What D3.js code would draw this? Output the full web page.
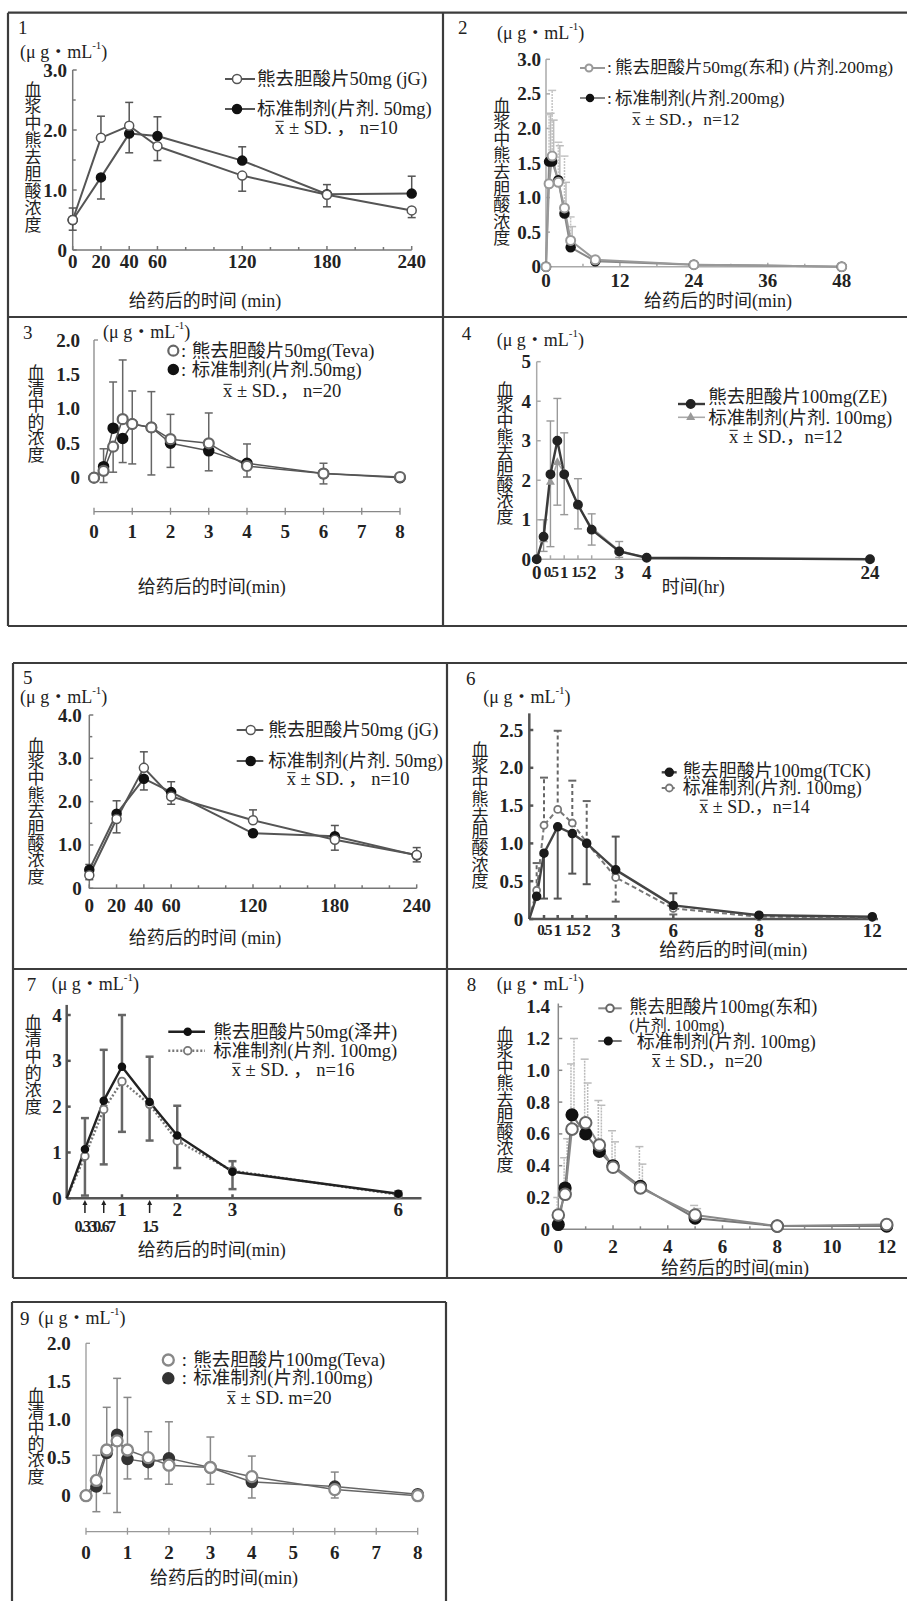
<!DOCTYPE html>
<html><head><meta charset="utf-8">
<script src="https://cdn.jsdelivr.net/npm/d3@7"></script>
<style>
body{margin:0;background:#fff}
svg{display:block}
text{font-family:"Liberation Serif","Noto Sans CJK SC",serif}
</style>
</head><body>
<svg id="c" width="907" height="1601"></svg>
<script>
// ---------------- DATA ----------------
// Panel 1
const p1_time=[0,20,40,60,120,180,240];
const p1_test=[0.50,1.87,2.07,1.73,1.24,0.92,0.66];
const p1_ref=[0.50,1.21,1.94,1.90,1.49,0.93,0.94];
const p1_testSD=[0.20,0.36,0.39,0.24,0.26,0.20,0.12];
const p1_refSD=[0.17,0.36,0.32,0.32,0.23,0.16,0.29];
const p1_xTicks=[0,20,40,60,120,180,240];
const p1_xMinor=[80,100,140,160,200,220];
const p1_yTicks=[0,1,2,3];
const p1_yLabels=["0","1.0","2.0","3.0"];
// Panel 2
const p2_time=[0,0.5,1,2,3,4,8,24,48];
const p2_test=[0,1.20,1.60,1.22,0.85,0.38,0.10,0.03,0];
const p2_ref=[0,1.52,1.52,1.25,0.77,0.28,0.08,0.03,0];
const p2_testSD=[0,1.00,0.95,0.58,0.75,0.34,0.05,0,0];
const p2_refSD=[0,0.70,0.60,0.50,0.45,0.30,0.04,0,0];
const p2_xTicks=[0,12,24,36,48];
const p2_yTicks=[0,0.5,1,1.5,2,2.5,3];
const p2_yLabels=["0","0.5","1.0","1.5","2.0","2.5","3.0"];
// Panel 3
const p3_time=[0,0.25,0.5,0.75,1,1.5,2,3,4,6,8];
const p3_test=[0,0.10,0.45,0.85,0.78,0.73,0.56,0.50,0.17,0.06,0.01];
const p3_ref=[0,0.16,0.72,0.57,0.78,0.73,0.50,0.39,0.21,0.06,0.00];
const p3_testSD=[0,0.17,0.37,0.86,0.48,0.52,0.36,0.44,0.16,0.15,0];
const p3_refSD=[0,0.26,0.67,0.35,0.58,0.69,0.35,0.29,0.28,0.15,0];
const p3_xTicks=[0,1,2,3,4,5,6,7,8];
const p3_yTicks=[0,0.5,1,1.5,2];
const p3_yLabels=["0","0.5","1.0","1.5","2.0"];
// Panel 4
const p4_time=[0,0.25,0.5,0.75,1,1.5,2,3,4,24];
const p4_test=[0,0.57,2.15,3.00,2.15,1.38,0.75,0.20,0.04,0];
const p4_ref=[0,0.50,1.95,2.45,2.20,1.35,0.80,0.22,0.04,0];
const p4_testSD=[0,0.43,1.35,1.07,1.02,0.66,0.39,0.15,0,0];
const p4_refSD=[0,0.30,1.63,1.08,1.00,0.58,0.35,0.23,0,0];
const p4_xTicks=[0,0.5,1,1.5,2,3,4,24];
const p4_xLabels=["0","0.5","1","1.5","2","3","4","24"];
const p4_yTicks=[0,1,2,3,4,5];
const p4_yLabels=["0","1","2","3","4","5"];
// Panel 5
const p5_time=[0,20,40,60,120,180,240];
const p5_test=[0.30,1.60,2.78,2.12,1.57,1.12,0.77];
const p5_ref=[0.43,1.72,2.53,2.22,1.27,1.20,0.76];
const p5_testSD=[0.10,0.32,0.37,0.18,0.24,0.24,0.17];
const p5_refSD=[0.12,0.30,0.26,0.24,0.07,0.25,0.15];
const p5_xTicks=[0,20,40,60,120,180,240];
const p5_xMinor=[80,100,140,160,200,220];
const p5_yTicks=[0,1,2,3,4];
const p5_yLabels=["0","1.0","2.0","3.0","4.0"];
// Panel 6
const p6_time=[0,0.25,0.5,1,1.5,2,3,6,8,12];
const p6_test=[0,0.30,0.87,1.22,1.13,1.00,0.65,0.18,0.05,0.03];
const p6_ref=[0,0.38,1.24,1.45,1.27,1.01,0.55,0.14,0.03,0.02];
const p6_testSD=[0,0,0.60,0.95,0.53,0.54,0.44,0.16,0.03,0];
const p6_refSD=[0,0.36,0.63,1.04,0.56,0.55,0.32,0.08,0,0];
const p6_xTicks=[0.5,1,1.5,2,3,6,8,12];
const p6_xLabels=["0.5","1","1.5","2","3","6","8","12"];
const p6_yTicks=[0,0.5,1,1.5,2,2.5];
const p6_yLabels=["0","0.5","1.0","1.5","2.0","2.5"];
// Panel 7
const p7_time=[0,0.33,0.67,1,1.5,2,3,6];
const p7_test=[0,1.07,2.13,2.87,2.10,1.37,0.58,0.10];
const p7_ref=[0,0.92,1.94,2.55,2.05,1.25,0.60,0.08];
const p7_testSD=[0,0.68,1.11,1.13,0.99,0.65,0.38,0.05];
const p7_refSD=[0,0.86,1.20,1.10,0.79,0.59,0.21,0.04];
const p7_xTicks=[1,2,3,6];
const p7_xArrows=[0.33,0.67,1,1.5];
const p7_xLower=[0.33,0.67,1.5];
const p7_yTicks=[0,1,2,3,4];
const p7_yLabels=["0","1","2","3","4"];
// Panel 8
const p8_time=[0,0.25,0.5,1,1.5,2,3,5,8,12];
const p8_test=[0.09,0.22,0.63,0.67,0.53,0.39,0.26,0.09,0.02,0.03];
const p8_ref=[0.03,0.26,0.72,0.60,0.49,0.40,0.27,0.07,0.02,0.02];
const p8_testSD=[0.11,0.23,0.41,0.40,0.28,0.23,0.26,0.06,0,0];
const p8_refSD=[0,0.31,0.48,0.32,0.29,0.15,0.14,0.06,0,0];
const p8_xTicks=[0,2,4,6,8,10,12];
const p8_xMinor=[1,3,5,7,9,11];
const p8_yTicks=[0,0.2,0.4,0.6,0.8,1.0,1.2,1.4];
const p8_yLabels=["0","0.2","0.4","0.6","0.8","1.0","1.2","1.4"];
// Panel 9
const p9_time=[0,0.25,0.5,0.75,1,1.5,2,3,4,6,8];
const p9_test=[0,0.20,0.60,0.72,0.60,0.50,0.40,0.37,0.25,0.08,0];
const p9_ref=[0,0.12,0.56,0.80,0.48,0.44,0.49,0.37,0.18,0.12,0.02];
const p9_testSD=[0,0.33,0.56,0.94,0.69,0.34,0.25,0.40,0.27,0.11,0];
const p9_refSD=[0,0.33,0.53,0.74,0.26,0.22,0.48,0.22,0.21,0.19,0];
const p9_xTicks=[0,1,2,3,4,5,6,7,8];
const p9_yTicks=[0,0.5,1,1.5,2];
const p9_yLabels=["0","0.5","1.0","1.5","2.0"];

// ---------------- DRAWING ----------------
const svg=d3.select("#c");
svg.append("rect").attr("width",907).attr("height",1601).attr("fill","#fff");
const TICK=19;

function txt(g,x,y,s,o={}){
  const t=g.append("text").attr("x",x).attr("y",y).attr("dominant-baseline","central")
    .attr("font-size",o.size||17).attr("text-anchor",o.anchor||"start")
    .attr("font-weight",o.weight||"normal").style("fill",o.fill||"#222").text(s);
  if(o.ls!=null) t.attr("letter-spacing",o.ls);
  return t;
}
function unitLabel(g,x,y){
  const t=g.append("text").attr("x",x).attr("y",y).attr("dominant-baseline","central")
    .attr("font-size",18).style("fill","#222");
  t.append("tspan").text("(μ g・mL");
  t.append("tspan").attr("font-size",11).attr("dy",-7).text("-1");
  t.append("tspan").attr("dy",7).text(")");
}
function statLabel(g,x,y,rest,size){
  const t=g.append("text").attr("x",x).attr("y",y).attr("dominant-baseline","central")
    .attr("font-size",size).style("fill","#222");
  t.append("tspan").text("x");
  t.append("tspan").text(rest);
  const e=t.node().getExtentOfChar(0);
  g.append("line").attr("x1",e.x+0.5).attr("x2",e.x+e.width-0.5)
    .attr("y1",y-0.36*size).attr("y2",y-0.36*size).attr("stroke","#222").attr("stroke-width",1);
}
function marker(g,s,cx,cy,r){
  r=r||s.r;
  if(s.marker==="tri"){
    g.append("path").attr("d",d3.symbol(d3.symbolTriangle,r*r*2.2)())
      .attr("transform",`translate(${cx},${cy})`).attr("fill",s.mfill);
  } else {
    g.append("circle").attr("cx",cx).attr("cy",cy).attr("r",r)
      .attr("fill",s.mfill).attr("stroke",s.mstroke).attr("stroke-width",s.msw||1.5);
  }
}

function drawPanel(c){
  const g=svg.append("g");
  const x=d3.scaleLinear().domain(c.xDomain).range(c.xRange);
  const y=d3.scaleLinear().domain([0,c.yMax]).range(c.yRange);
  const x0=x(0), y0=y(0);
  const A={stroke:c.axisColor,"stroke-width":c.axisWidth};
  const ln=(x1,y1,x2,y2,st)=>{const l=g.append("line").attr("x1",x1).attr("y1",y1).attr("x2",x2).attr("y2",y2);
    for(const k in st) l.attr(k,st[k]); return l;};

  txt(g,c.numPos[0],c.numPos[1],c.num,{size:19});
  unitLabel(g,c.unitPos[0],c.unitPos[1]);

  // y axis
  ln(x0,y(c.yAxisTop),x0,c.sepAxisY?y(c.yAxisBottom):y0,A);
  c.yTicks.forEach(v=>ln(x0,y(v),x0+4,y(v),A));
  (c.yMinor||[]).forEach(v=>ln(x0,y(v),x0+3,y(v),A));
  c.yTicks.forEach((v,i)=>txt(g,c.yLabelX,y(v),c.yLabels[i],{anchor:"end",size:TICK,weight:"bold"}));

  // x axis
  if(c.sepAxisY){
    const ay=c.sepAxisY;
    ln(x0,ay,x(c.xAxisEnd),ay,A);
    c.xTicks.forEach(v=>ln(x(v),ay-4,x(v),ay+3,A));
  } else {
    ln(x0,y0,x(c.xAxisEnd),y0,A);
    c.xTicks.forEach(v=>ln(x(v),y0,x(v),y0-4,A));
    (c.xMinor||[]).forEach(v=>ln(x(v),y0,x(v),y0-3,A));
  }
  c.xTicks.forEach((v,i)=>txt(g,x(v),c.xLabelY,c.xLabels?c.xLabels[i]:String(v),
    {anchor:"middle",size:(c.xLabelSize&&c.xLabelSize[i])||TICK,weight:"bold",ls:(c.xLabelLs&&c.xLabelLs[i])}));
  if(c.extra) c.extra(g,x,y);

  // titles
  [...c.yTitle].forEach((ch,i)=>txt(g,c.yTitlePos[0],c.yTitlePos[1]+i*c.yTitlePos[2],ch,{anchor:"middle",size:17}));
  txt(g,c.xTitlePos[0],c.xTitlePos[1],c.xTitle,{anchor:"middle",size:18});

  // error bars
  const S=c.series;
  S.forEach((s,k)=>{
    const o=S[1-k];
    s.t.forEach((t,i)=>{
      const sd=s.sd[i]; if(!sd) return;
      let dir=1;
      if(c.errMode==="split"){
        dir = k===0 ? (s.v[i]>o.v[i]?1:-1) : (s.v[i]>=o.v[i]?1:-1);
      }
      const e=s.v[i]+dir*sd, xx=x(t)+(s.errDx||0);
      const st={stroke:s.errColor,"stroke-width":s.errWidth};
      const l=ln(xx,y(s.v[i]),xx,y(e),st); if(s.errDash) l.attr("stroke-dasharray",s.errDash);
      ln(xx-4,y(e),xx+4,y(e),st);
    });
  });
  // lines
  S.forEach(s=>{
    const pts=s.t.map((t,i)=>[t,s.v[i]]);
    const p=g.append("path").attr("d",d3.line().x(d=>x(d[0])).y(d=>y(d[1]))(pts))
      .attr("fill","none").attr("stroke",s.color).attr("stroke-width",s.width).attr("stroke-linejoin","round");
    if(s.dash) p.attr("stroke-dasharray",s.dash);
  });
  // markers
  S.forEach(s=>{ s.t.forEach((t,i)=>{ if(s.skip0 && i===0) return; marker(g,s,x(t),y(s.v[i])); }); });

  // legend
  c.legend.forEach(L=>{
    const s=S[L.s];
    if(L.x1!=null){
      const p=ln(L.x1,L.y,L.x2,L.y,{stroke:s.color,"stroke-width":s.width});
      if(s.dash) p.attr("stroke-dasharray",s.dash);
    }
    marker(g,s,L.mx,L.y,L.r);
  });
  c.texts.forEach(T=>txt(g,T[0],T[1],T[2],{size:T[3]||c.legendSize||17}));
  statLabel(g,c.stat[0],c.stat[1],c.stat[2],c.legendSize||17);
}

// frames
const frameSegs=[
 [8,12.7,907,12.7],[8,12.7,8,626],[8,626,907,626],[443,12.7,443,626],[8,317,907,317],
 [13,663,907,663],[13,663,13,1278],[13,1278,907,1278],[447,663,447,1278],[13,969,907,969],
 [12,1302,446,1302],[12,1302,12,1601],[446,1302,446,1601]];
frameSegs.forEach(s=>svg.append("line").attr("x1",s[0]).attr("y1",s[1]).attr("x2",s[2]).attr("y2",s[3])
  .attr("stroke","#3c3c3c").attr("stroke-width",2.2));

const std=(o)=>Object.assign({color:"#555",width:2,r:4.5,errColor:"#555",errWidth:1.5},o);

// Panel 1
drawPanel({num:"1",numPos:[18,27],unitPos:[20,52],
 xDomain:[0,240],xRange:[72.7,411.7],yMax:3,yRange:[250,70],yAxisTop:3,xAxisEnd:240,
 axisColor:"#777",axisWidth:1.5,yTicks:p1_yTicks,yLabels:p1_yLabels,yLabelX:67,yMinor:[0.5,1.5,2.5],
 xTicks:p1_xTicks,xMinor:p1_xMinor,xLabelY:261,
 yTitle:"血浆中熊去胆酸浓度",yTitlePos:[33,90,16.9],xTitle:"给药后的时间 (min)",xTitlePos:[205,301],
 errMode:"split",legendSize:18.5,
 series:[std({t:p1_time,v:p1_ref,sd:p1_refSD,marker:"filled",mfill:"#111",mstroke:"#111"}),
         std({t:p1_time,v:p1_test,sd:p1_testSD,marker:"open",mfill:"#fff",mstroke:"#555"})],
 legend:[{x1:225,x2:255,y:79,mx:237,s:1},{x1:225,x2:255,y:109,mx:237,s:0}],
 texts:[[257,79,"熊去胆酸片50mg (jG)"],[257,109,"标准制剂(片剂. 50mg)"]],
 stat:[275,128," ± SD. ， n=10"]});

// Panel 2
drawPanel({num:"2",numPos:[458,27],unitPos:[497,33],
 xDomain:[0,48],xRange:[546,841.7],yMax:3,yRange:[266.7,59.3],yAxisTop:3,xAxisEnd:48.5,
 axisColor:"#aaa",axisWidth:1.5,yTicks:p2_yTicks,yLabels:p2_yLabels,yLabelX:541,
 xTicks:p2_xTicks,xMinor:[6,18,30,42],xLabelY:280,
 yTitle:"血浆中熊去胆酸浓度",yTitlePos:[501.7,106,16.6],xTitle:"给药后的时间(min)",xTitlePos:[718,301],
 errMode:"up",legendSize:17.5,
 series:[{t:p2_time,v:p2_ref,sd:p2_refSD,marker:"filled",r:4.5,mfill:"#111",mstroke:"#111",color:"#888",width:2,errColor:"#bbb",errWidth:1.5,errDx:1.5},
         {t:p2_time,v:p2_test,sd:p2_testSD,marker:"open",r:4.5,mfill:"#fff",mstroke:"#999",msw:2,color:"#999",width:2,errColor:"#c4c4c4",errWidth:1.5,errDash:"2,1"}],
 legend:[{x1:580,x2:605,y:68,mx:589,s:1,r:3.5},{x1:580,x2:605,y:98,mx:590,s:0,r:3.5}],
 texts:[[607,67,":"],[615,67,"熊去胆酸片50mg(东和)  (片剂.200mg)"],[607,98,":"],[615,98,"标准制剂(片剂.200mg)"]],
 stat:[632,119," ± SD.，n=12"]});

// Panel 3
drawPanel({num:"3",numPos:[23,332],unitPos:[103,332],
 xDomain:[0,8],xRange:[94,400],yMax:2,yRange:[477.7,340],yAxisTop:2,yAxisBottom:0,xAxisEnd:8,sepAxisY:511.7,
 axisColor:"#888",axisWidth:1.3,yTicks:[2],yLabels:["2.0"],yLabelX:80,
 xTicks:p3_xTicks,xLabelY:531,
 extra:(g,x,y)=>{p3_yTicks.forEach((v,i)=>{ if(v!==2) txt(g,80,y(v),p3_yLabels[i],{anchor:"end",size:TICK,weight:"bold"});});},
 yTitle:"血清中的浓度",yTitlePos:[36,373,16.4],xTitle:"给药后的时间(min)",xTitlePos:[211.7,587],
 errMode:"split",legendSize:18.5,
 series:[{t:p3_time,v:p3_ref,sd:p3_refSD,marker:"filled",r:5,mfill:"#111",mstroke:"#111",color:"#555",width:1.5,errColor:"#666",errWidth:1.5},
         {t:p3_time,v:p3_test,sd:p3_testSD,marker:"open",r:5,mfill:"#fff",mstroke:"#666",msw:2.2,color:"#555",width:1.5,errColor:"#666",errWidth:1.5}],
 legend:[{mx:173.3,y:350.7,s:1},{mx:173.3,y:369.5,s:0}],
 texts:[[181,350.7,":"],[191.7,350.7,"熊去胆酸片50mg(Teva)"],[181,370,":"],[191.7,370,"标准制剂(片剂.50mg)"]],
 stat:[223,391," ± SD.，  n=20"]});

// Panel 4
drawPanel({num:"4",numPos:[461.7,333],unitPos:[496.7,340],
 xDomain:[0,4,24],xRange:[536.7,646.7,870],yMax:5,yRange:[559.3,361.7],yAxisTop:5,xAxisEnd:24,
 axisColor:"#aaa",axisWidth:1.5,yTicks:p4_yTicks,yLabels:p4_yLabels,yLabelX:531,
 xTicks:p4_xTicks,xLabels:p4_xLabels,xLabelY:572,
 xLabelSize:[19,15,17,15,19,19,19,19],xLabelLs:[0,-1.8,0,-1.8,0,0,0,0],
 yTitle:"血浆中熊去胆酸浓度",yTitlePos:[505,390,15.9],xTitle:"时间(hr)",xTitlePos:[693.3,587],
 errMode:"split",legendSize:18.5,
 series:[{t:p4_time,v:p4_ref,sd:p4_refSD,marker:"tri",r:4,mfill:"#999",color:"#aaa",width:1.6,errColor:"#999",errWidth:1.4},
         {t:p4_time,v:p4_test,sd:p4_testSD,marker:"filled",r:4.2,mfill:"#222",mstroke:"#222",color:"#3a3a3a",width:2.4,errColor:"#999",errWidth:1.4}],
 legend:[{x1:678,x2:705,y:404,mx:690.7,s:1},{x1:678,x2:705,y:417.3,mx:690.7,s:0}],
 texts:[[708.3,397,"熊去胆酸片100mg(ZE)"],[708.3,418,"标准制剂(片剂. 100mg)"]],
 stat:[729,437," ± SD.，n=12"]});

// Panel 5
drawPanel({num:"5",numPos:[23,677],unitPos:[20,697],
 xDomain:[0,240],xRange:[89.3,416.7],yMax:4,yRange:[888.3,715],yAxisTop:4,xAxisEnd:240,
 axisColor:"#777",axisWidth:1.5,yTicks:p5_yTicks,yLabels:p5_yLabels,yLabelX:81.7,yMinor:[0.5,1.5,2.5,3.5],
 xTicks:p5_xTicks,xMinor:p5_xMinor,xLabelY:905,
 yTitle:"血浆中熊去胆酸浓度",yTitlePos:[36,746,16.4],xTitle:"给药后的时间 (min)",xTitlePos:[205,938.3],
 errMode:"split",legendSize:18.5,
 series:[std({t:p5_time,v:p5_ref,sd:p5_refSD,marker:"filled",mfill:"#111",mstroke:"#111"}),
         std({t:p5_time,v:p5_test,sd:p5_testSD,marker:"open",mfill:"#fff",mstroke:"#555"})],
 legend:[{x1:236.7,x2:263.3,y:730,mx:250.7,s:1},{x1:236.7,x2:263.3,y:761,mx:250.7,s:0}],
 texts:[[268.3,730,"熊去胆酸片50mg (jG)"],[268.3,761,"标准制剂(片剂. 50mg)"]],
 stat:[286.7,779.3," ± SD. ， n=10"]});

// Panel 6
drawPanel({num:"6",numPos:[466,678.3],unitPos:[483.3,697],
 xDomain:[0,0.5,1,1.5,2,3,6,8,12],xRange:[529.3,544,557.7,572.3,586.7,615.7,673.3,759,872.3],
 yMax:2.5,yRange:[919,730],yAxisTop:2.72,xAxisEnd:12.2,
 axisColor:"#555",axisWidth:2.5,yTicks:p6_yTicks,yLabels:p6_yLabels,yLabelX:523.3,
 xTicks:p6_xTicks,xLabels:p6_xLabels,xLabelY:930,
 xLabelSize:[15,17,15,17,19,19,19,19],xLabelLs:[-1.8,0,-1.8,0,0,0,0,0],
 yTitle:"血浆中熊去胆酸浓度",yTitlePos:[480,750.5,16.4],xTitle:"给药后的时间(min)",xTitlePos:[733.3,950],
 errMode:"split",legendSize:18,
 series:[{t:p6_time,v:p6_ref,sd:p6_refSD,marker:"open",r:3.5,mfill:"#fff",mstroke:"#777",msw:1.8,color:"#777",width:2,dash:"5,3",errColor:"#666",errWidth:2,errDash:"4,3",skip0:true},
         {t:p6_time,v:p6_test,sd:p6_testSD,marker:"filled",r:4,mfill:"#1a1a1a",mstroke:"#1a1a1a",color:"#444",width:2.4,errColor:"#555",errWidth:2,skip0:true}],
 legend:[{x1:661.7,x2:676.7,y:772.3,mx:669.3,s:1},{x1:661.7,x2:676.7,y:788,mx:669.3,s:0}],
 texts:[[682.7,771,"熊去胆酸片100mg(TCK)"],[682.7,788.3,"标准制剂(片剂. 100mg)"]],
 stat:[699.3,806.7," ± SD.，n=14"]});

// Panel 7
drawPanel({num:"7",numPos:[26.7,984],unitPos:[51.7,984],
 xDomain:[0,6],xRange:[66.7,398.3],yMax:4,yRange:[1198.3,1015],yAxisTop:4.22,xAxisEnd:6.42,
 axisColor:"#555",axisWidth:2.5,yTicks:p7_yTicks,yLabels:p7_yLabels,yLabelX:61.7,
 xTicks:p7_xTicks,xLabelY:1209.3,
 extra:(g,x,y)=>{
   p7_xArrows.filter(v=>v!==1).forEach(v=>{
     g.append("line").attr("x1",x(v)).attr("x2",x(v)).attr("y1",1213).attr("y2",1203).attr("stroke","#222").attr("stroke-width",1.5);
     g.append("path").attr("d",`M${x(v)-2.5},${1205}L${x(v)},${1200}L${x(v)+2.5},${1205}Z`).attr("fill","#222");
   });
   p7_xLower.forEach(v=>txt(g,x(v),1226,String(v),{anchor:"middle",size:16,weight:"bold",ls:-1.8}));
 },
 yTitle:"血清中的浓度",yTitlePos:[33.3,1023,16.8],xTitle:"给药后的时间(min)",xTitlePos:[211.7,1250],
 errMode:"split",legendSize:18.5,
 series:[{t:p7_time,v:p7_ref,sd:p7_refSD,marker:"open",r:3.8,mfill:"#fff",mstroke:"#777",msw:1.8,color:"#777",width:2.4,dash:"2,2",errColor:"#666",errWidth:2.5,skip0:true},
         {t:p7_time,v:p7_test,sd:p7_testSD,marker:"filled",r:3.5,mfill:"#111",mstroke:"#111",color:"#222",width:2.4,errColor:"#666",errWidth:2.5,skip0:true}],
 legend:[{x1:168.3,x2:205,y:1031.7,mx:187.7,s:1},{x1:168.3,x2:205,y:1050.7,mx:187.7,s:0}],
 texts:[[213.3,1031.7,"熊去胆酸片50mg(泽井)"],[213.3,1050.7,"标准制剂(片剂. 100mg)"]],
 stat:[231.7,1070," ± SD. ， n=16"]});

// Panel 8
drawPanel({num:"8",numPos:[466.7,984],unitPos:[496.7,984],
 xDomain:[0,12],xRange:[558.3,886.7],yMax:1.4,yRange:[1229.3,1006.7],yAxisTop:1.42,xAxisEnd:12.1,
 axisColor:"#888",axisWidth:1.5,yTicks:p8_yTicks,yLabels:p8_yLabels,yLabelX:550,
 xTicks:p8_xTicks,xMinor:p8_xMinor,xLabelY:1246.7,
 yTitle:"血浆中熊去胆酸浓度",yTitlePos:[505,1035,16.25],xTitle:"给药后的时间(min)",xTitlePos:[735,1268],
 errMode:"up",legendSize:18,
 series:[{t:p8_time,v:p8_ref,sd:p8_refSD,marker:"filled",r:5.8,mfill:"#111",mstroke:"#111",color:"#777",width:2,errColor:"#bbb",errWidth:1.5,errDash:"2,1",errDx:2},
         {t:p8_time,v:p8_test,sd:p8_testSD,marker:"open",r:5.8,mfill:"#fff",mstroke:"#666",msw:2,color:"#888",width:2,errColor:"#bbb",errWidth:1.5,errDash:"2,1",errDx:-1}],
 legend:[{x1:598.3,x2:621.7,y:1008.3,mx:610,s:1,r:3.8},{x1:598.3,x2:621.7,y:1041,mx:608.3,s:0,r:3.8}],
 texts:[[629.3,1007,"熊去胆酸片100mg(东和)"],[629.3,1025,"(片剂. 100mg)",16],[636.7,1042,"标准制剂(片剂. 100mg)"]],
 stat:[651.7,1061," ± SD.，n=20"]});

// Panel 9
drawPanel({num:"9",numPos:[20,1318.3],unitPos:[38.3,1318.3],
 xDomain:[0,8],xRange:[86,417.7],yMax:2,yRange:[1495.7,1343.3],yAxisTop:2,yAxisBottom:0,xAxisEnd:8,sepAxisY:1531.7,
 axisColor:"#999",axisWidth:1.3,yTicks:[2],yLabels:["2.0"],yLabelX:70.7,
 xTicks:p9_xTicks,xLabelY:1552,
 extra:(g,x,y)=>{p9_yTicks.forEach((v,i)=>{ if(v!==2) txt(g,70.7,y(v),p9_yLabels[i],{anchor:"end",size:TICK,weight:"bold"});});},
 yTitle:"血清中的浓度",yTitlePos:[36,1396.5,16.1],xTitle:"给药后的时间(min)",xTitlePos:[224,1578.3],
 errMode:"split",legendSize:18.5,
 series:[{t:p9_time,v:p9_ref,sd:p9_refSD,marker:"filled",r:5.5,mfill:"#333",mstroke:"#333",color:"#666",width:1.5,errColor:"#888",errWidth:1.5},
         {t:p9_time,v:p9_test,sd:p9_testSD,marker:"open",r:5.5,mfill:"#fff",mstroke:"#888",msw:2.3,color:"#666",width:1.5,errColor:"#888",errWidth:1.5}],
 legend:[{mx:168.3,y:1360,s:1},{mx:168.3,y:1378.3,s:0}],
 texts:[[181.7,1360,":"],[193.3,1360,"熊去胆酸片100mg(Teva)"],[181.7,1378.3,":"],[193.3,1378.3,"标准制剂(片剂.100mg)"]],
 stat:[226.7,1398.3," ± SD.  m=20"]});
</script>
</body></html>
